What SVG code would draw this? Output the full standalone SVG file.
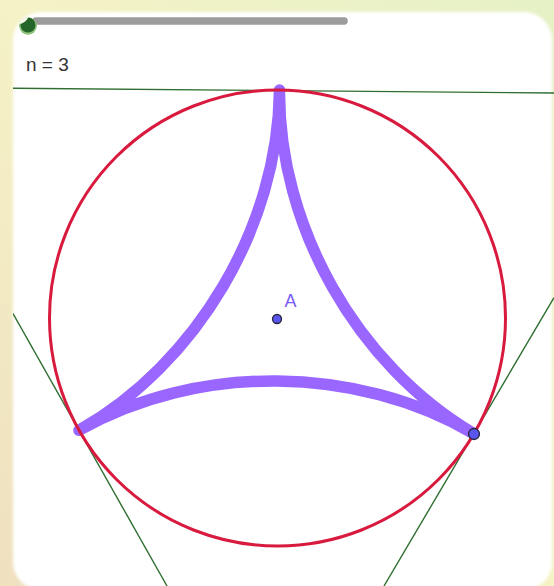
<svg xmlns="http://www.w3.org/2000/svg" width="554" height="586" viewBox="0 0 554 586">
  <defs>
    <linearGradient id="bg" x1="1" y1="0" x2="0" y2="1">
      <stop offset="0" stop-color="#e6f1c6"/>
      <stop offset="0.5" stop-color="#f5f2c6"/>
      <stop offset="1" stop-color="#efe0c0"/>
    </linearGradient>
    <filter id="soft" x="-5%" y="-5%" width="110%" height="110%">
      <feGaussianBlur stdDeviation="1.8"/>
    </filter>
    <clipPath id="view">
      <rect x="13" y="0" width="541" height="586"/>
    </clipPath>
    <clipPath id="knobclip">
      <circle cx="28" cy="26" r="9"/>
    </clipPath>
    <style>
      .tan { stroke: #2f6e30; fill: none; stroke-width: 1.4; }
      .pt { fill: #5a55ee; stroke: #26263a; stroke-width: 1.3; }
      .lbl { font-family: "Liberation Sans", Arial, sans-serif; }
    </style>
  </defs>

  <g id="background">
    <rect x="0" y="0" width="554" height="586" fill="url(#bg)"/>
    <rect x="13" y="12" width="539" height="578" rx="28" ry="28" fill="#ffffff" filter="url(#soft)"/>
  </g>

  <g id="slider">
    <line x1="36" y1="21" x2="344" y2="21" stroke="#9c9c9c" stroke-width="7.5" stroke-linecap="round"/>
    <g clip-path="url(#knobclip)">
      <circle cx="28" cy="26" r="9" fill="#8fc27a"/>
      <circle cx="28" cy="25" r="7.5" fill="#24662a"/>
      <ellipse cx="21" cy="17" rx="9" ry="6" fill="#f6f8ea" transform="rotate(-35 21 17)"/>
    </g>
  </g>

  <g id="label-n">
    <text class="lbl" x="26" y="71" font-size="19" fill="#333333">n = 3</text>
  </g>

  <g id="tangent-lines" clip-path="url(#view)">
    <line class="tan" x1="13" y1="88.3" x2="554" y2="93" stroke-width="1.8"/>
    <line class="tan" x1="13" y1="313.6" x2="167" y2="586"/>
    <line class="tan" x1="554" y1="297.7" x2="384" y2="586"/>
  </g>

  <g id="curve">
    <path d="M279.5,90 C278.3,226 197.4,363.3 79,430.3 C197.4,363.3 356.7,364.7 473.9,433.7 C356.7,364.7 278.3,226 279.5,90" fill="none" stroke="#9966ff" stroke-width="11.5" stroke-linecap="round" stroke-linejoin="round"/>
  </g>

  <g id="circle">
    <circle cx="277.5" cy="318" r="228" fill="none" stroke="#d81a3e" stroke-width="3"/>
  </g>

  <g id="point-A">
    <circle class="pt" cx="277" cy="319" r="4.5"/>
    <text class="lbl" x="284.5" y="306.5" font-size="18" fill="#7b5cf5">A</text>
  </g>

  <g id="point-B">
    <circle class="pt" cx="474" cy="434" r="5.5"/>
  </g>
</svg>
